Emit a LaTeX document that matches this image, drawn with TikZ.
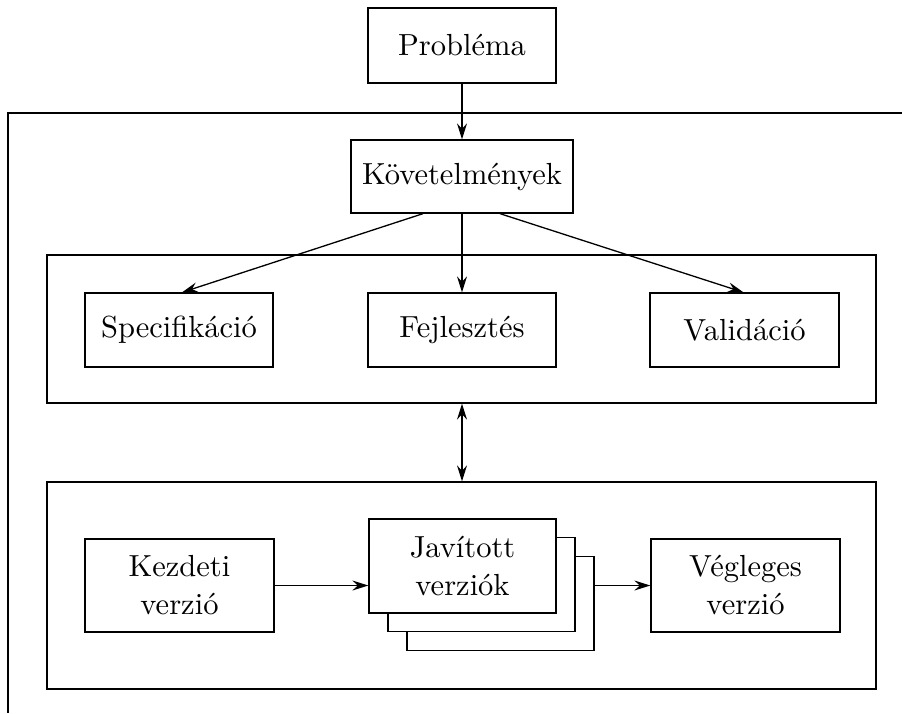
\documentclass[tikz,border=0pt]{standalone}
\usepackage{fontspec}
\setmainfont{lmroman10-regular}[Extension=.otf]
\usetikzlibrary{arrows.meta}
\tikzset{
  box/.style={draw, line width=1.3pt, fill=white, inner sep=0pt, align=center,
    font=\fontsize{30.5}{38}\selectfont},
  grp/.style={draw, line width=1.3pt, inner sep=0pt},
  conn/.style={line width=1.3pt, -{Stealth[length=16pt,width=10pt,inset=5.5pt]}},
  dconn/.style={line width=1.3pt, {Stealth[length=16pt,width=10pt,inset=5.5pt]}-{Stealth[length=16pt,width=10pt,inset=5.5pt]}},
}
\begin{document}
\begin{tikzpicture}[x=1pt,y=-1pt]
\useasboundingbox (0,0) rectangle (902,713);
% open outer frame
\coordinate (frR) at (902,113);
\coordinate (frC) at (8,113);
\coordinate (frB) at (8,713);
\draw[line width=1.3pt] (frR) -- (frC) -- (frB);
% groups
\node[grp, minimum width=829pt, minimum height=148pt] (grp1) at (461.5,329) {};
\node[grp, minimum width=829pt, minimum height=207pt] (grp2) at (461.5,585.5) {};
% nodes
\node[box, minimum width=188pt, minimum height=75pt] (prob) at (462,45.5) {Probléma};
\node[box, minimum width=222pt, minimum height=73pt] (kov) at (462,176.5) {Követelmények};
\node[box, minimum width=188pt, minimum height=74pt] (spec) at (179,330) {Specifikáció};
\node[box, minimum width=188pt, minimum height=74pt] (fej) at (462,330) {Fejlesztés};
\node[box, minimum width=189pt, minimum height=74pt] (val) at (744.5,330) {Validáció};
\node[box, minimum width=189pt, minimum height=93pt] (kezd) at (179.5,585.5) {Kezdeti\\verzió};
\node[box, minimum width=187pt, minimum height=94pt] (jav3) at (500.5,603.5) {};
\node[box, minimum width=187pt, minimum height=94pt] (jav2) at (481.5,584.5) {};
\node[box, minimum width=187pt, minimum height=94pt] (jav1) at (462.5,566) {Javított\\verziók};
\node[box, minimum width=189pt, minimum height=93pt] (veg) at (745.5,585.5) {Végleges\\verzió};
% connectors
\draw[conn] (prob.south) -- (kov.north);
\draw[conn] ([xshift=-39pt]kov.south) -- ([xshift=3pt]spec.north);
\draw[conn] (kov.south) -- (fej.north);
\draw[conn] ([xshift=38pt]kov.south) -- ([xshift=-1pt]val.north);
\draw[dconn] ([xshift=0.5pt]grp1.south) -- ([xshift=0.5pt]grp2.north);
\draw[conn] (kezd.east) -- (kezd.east -| jav1.west);
\draw[conn] (veg.west -| jav3.east) -- (veg.west);
\end{tikzpicture}
\end{document}
